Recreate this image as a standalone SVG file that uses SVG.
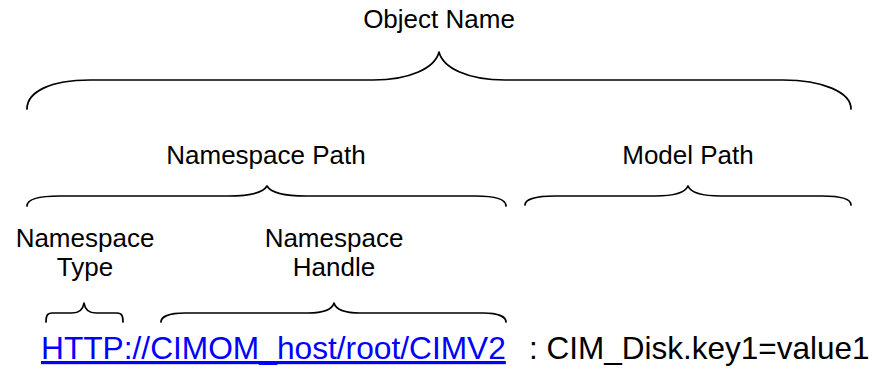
<svg xmlns="http://www.w3.org/2000/svg" width="875" height="368" viewBox="0 0 875 368">
<style>
.lbl{font-family:"Liberation Sans",Arial,sans-serif;font-size:26px;fill:#000;text-anchor:middle}
.brace{fill:none;stroke:#000;stroke-width:1.7;stroke-linecap:round;stroke-linejoin:round}
.url{font-family:"Liberation Sans",Arial,sans-serif;font-size:31.7px;fill:#0000FF;text-decoration:underline}
.txt{font-family:"Liberation Sans",Arial,sans-serif;font-size:31.5px;fill:#000}
</style>
<rect width="875" height="368" fill="#fff"/>
<g id="object-name">
<text class="lbl" x="439" y="28">Object Name</text>
</g>
<g id="namespace-path">
<text class="lbl" x="266" y="164">Namespace Path</text>
</g>
<g id="model-path">
<text class="lbl" x="688" y="164">Model Path</text>
</g>
<g id="namespace-type">
<text class="lbl" x="85" y="247">Namespace</text>
<text class="lbl" x="85" y="276">Type</text>
</g>
<g id="namespace-handle">
<text class="lbl" x="334" y="247">Namespace</text>
<text class="lbl" x="334" y="276">Handle</text>
</g>
<g id="connectors">
<path class="brace" d="M27,109 C27,92 50,80 90,80 L373,80 C410,80 435,68 439,52 C443,68 468,80 505,80 L783,80 C822,80 851,92 851,109"/>
<path class="brace" d="M27,206 C27,199 40,196 60,196 L228,196 C250,196 263,193 267,186 C271,193 284,196 306,196 L475,196 C495,196 506,199 506,206"/>
<path class="brace" d="M525,205 C525,199 537,196 555,196 L655,196 C675,196 685,193 688,186 C691,193 701,196 721,196 L822,196 C840,196 851,199 851,205"/>
<path class="brace" d="M46,322 C46,316 47,313 52,313 L72,313 C79,313 83,310 84,303 C85,310 89,313 96,313 L117,313 C122,313 123,316 123,322"/>
<path class="brace" d="M161,322 C161,317 168,313 185,313 L308,313 C324,313 332,310 334,303 C336,310 344,313 360,313 L483,313 C499,313 506,317 506,322"/>
</g>
<g id="path-string">
<text class="url" x="41" y="359">HTTP://CIMOM_host/root/CIMV2</text>
<text class="txt" x="529" y="359">: CIM_Disk.key1=value1</text>
</g>
</svg>
